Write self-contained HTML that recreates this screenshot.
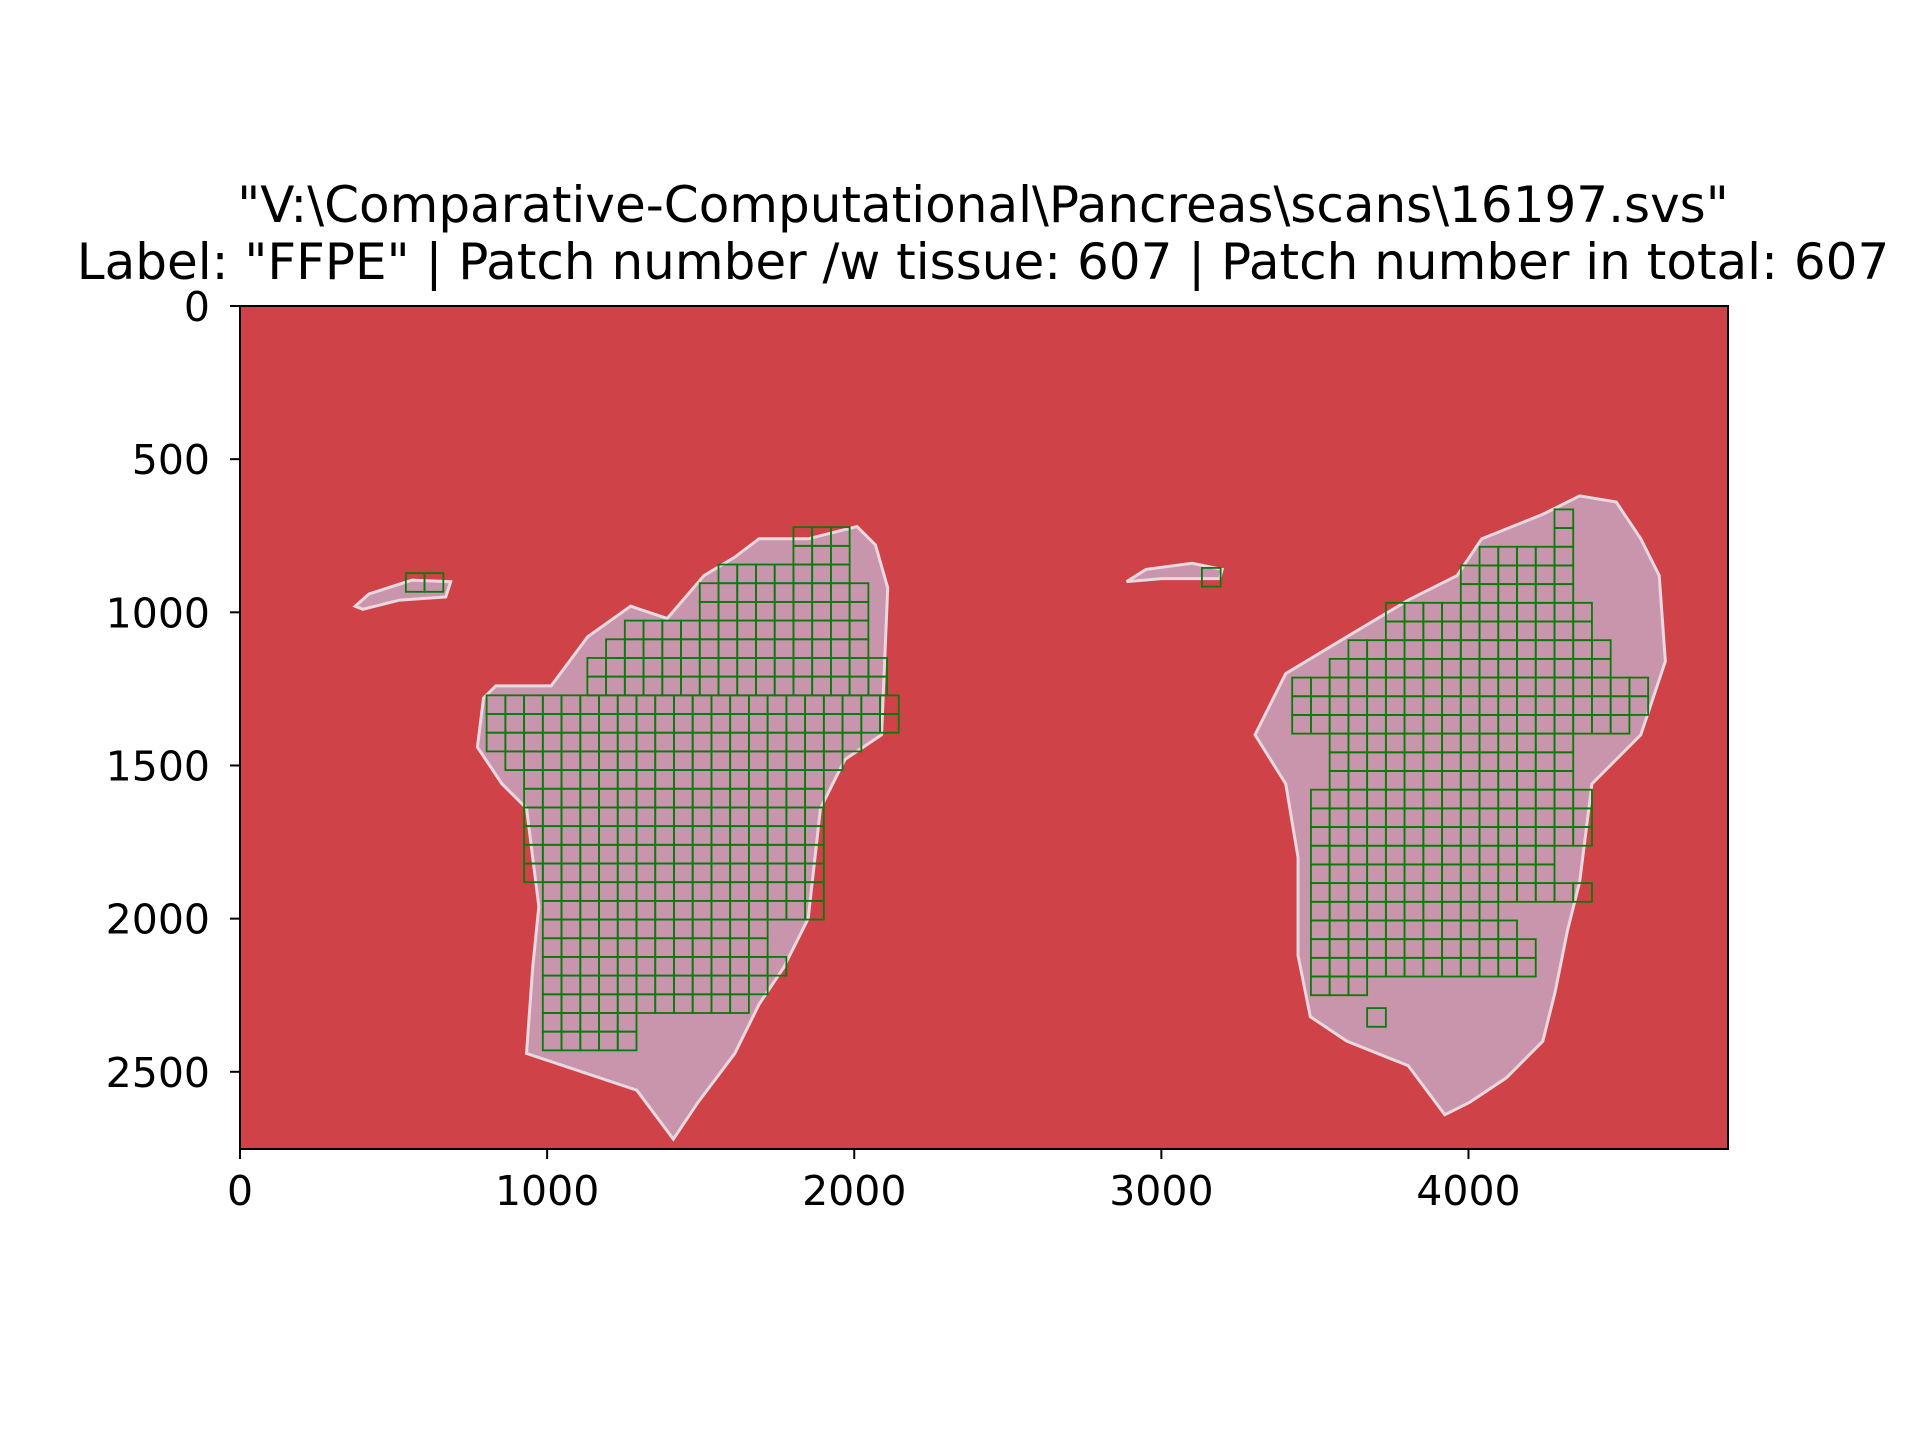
<!DOCTYPE html>
<html><head><meta charset="utf-8"><style>
html,body{margin:0;padding:0;background:#fff;}
svg{display:block;font-family:"DejaVu Sans","Liberation Sans",sans-serif;}
</style></head><body>
<svg id="chart" width="1920" height="1440" viewBox="0 0 1920 1440" xmlns="http://www.w3.org/2000/svg">
<rect width="1920" height="1440" fill="#fff"/>
<text x="983" y="222" font-size="50" text-anchor="middle" fill="#000">"V:\Comparative-Computational\Pancreas\scans\16197.svs"</text>
<text x="983" y="279" font-size="50" text-anchor="middle" fill="#000">Label: "FFPE" | Patch number /w tissue: 607 | Patch number in total: 607</text>
<g id="plot"></g>
<g id="axes"></g>
</svg>
<script>
const xTicks=[0,1000,2000,3000,4000];
const yTicks=[0,500,1000,1500,2000,2500];
const xMax=4845, yMax=2752;
const leftTissue=[[793,1280],[833,1240],[1013,1240],[1132,1080],[1272,980],[1391,1020],[1511,880],[1611,820],[1690,760],[1850,760],[2009,720],[2069,780],[2109,920],[2089,1400],[1970,1480],[1890,1640],[1850,2000],[1770,2160],[1690,2280],[1611,2440],[1491,2600],[1411,2720],[1292,2560],[1053,2480],[933,2440],[953,2160],[973,1960],[933,1640],[853,1560],[773,1440]];
const rightTissue=[[3365,1280],[3405,1200],[3604,1080],[3804,960],[3963,880],[4043,760],[4242,680],[4362,620],[4481,640],[4561,760],[4621,880],[4641,1160],[4561,1400],[4402,1560],[4362,1880],[4322,2040],[4282,2240],[4242,2400],[4123,2520],[4003,2600],[3923,2640],[3804,2480],[3604,2400],[3485,2320],[3445,2120],[3445,1800],[3405,1560],[3305,1400]];
const sliverA=[[375,980],[420,940],[560,895],[686,900],[670,950],[520,960],[400,990]];
const sliverB=[[2887,900],[2950,860],[3100,840],[3198,860],[3190,890],[3000,890]];
const patchStep=61;
// rows: [y, xStart, xEnd]
const patchRows=[
[722,1802,1985],[783,1802,1985],[844,1558,1985],[905,1497,2046],[966,1497,2046],
[1027,1253,2046],[1088,1192,2046],[1149,1131,2107],[1210,1131,2107],[1271,803,2107],[1332,803,2107],
[1393,803,1985],[1454,864,1924],[1515,925,1863],[1576,925,1863],[1637,925,1863],[1698,925,1863],
[1759,925,1863],[1820,925,1863],[1881,986,1863],[1942,986,1863],[2003,986,1680],[2064,986,1680],[2125,986,1741],
[2186,986,1680],[2247,986,1619],[2308,986,1253],[2369,986,1253],
[872,540,662],
[855,3132,3193],
[664,4280,4341],[725,4280,4341],[786,4036,4341],[847,3975,4341],[908,3975,4341],[969,3731,4402],[1030,3731,4402],
[1091,3609,4463],[1152,3548,4463],[1213,3426,4585],[1274,3426,4585],[1335,3426,4524],[1396,3548,4341],
[1457,3548,4341],[1518,3548,4341],[1579,3487,4402],[1640,3487,4402],[1701,3487,4402],[1762,3487,4280],
[1823,3487,4280],[1884,3487,4402],[1945,3487,4097],[2006,3487,4158],[2067,3487,4219],[2128,3487,4219],[2189,3487,3670],[2292,3670,3731]
];
const L=240,T=306,R=1728,B=1149;
const sx=v=>L+v/xMax*(R-L), sy=v=>T+v/yMax*(B-T);
const NS='http://www.w3.org/2000/svg';
const plot=document.getElementById('plot'), axes=document.getElementById('axes');
function mk(tag,parent,attrs){const e=document.createElementNS(NS,tag);for(const k in attrs)e.setAttribute(k,attrs[k]);parent.appendChild(e);return e;}
const bg=mk('rect',plot,{x:L,y:T,width:R-L,height:B-T,fill:'#cf4248'});


function poly(pts,name){
  const p=mk('polygon',plot,{points:pts.map(q=>sx(q[0])+','+sy(q[1])).join(' '),fill:'#c895ac',stroke:'#e8d8e0','stroke-width':3});
  
  
}
poly(leftTissue,'left-tissue');poly(rightTissue,'right-tissue');poly(sliverA,'left-sliver');poly(sliverB,'right-sliver');
const pw=sx(patchStep)-sx(0), ph=sy(patchStep)-sy(0);
patchRows.forEach(r=>{
  for(let x=r[1];x<r[2];x+=patchStep){
    const p=mk('rect',plot,{x:sx(x),y:sy(r[0]),width:pw,height:ph,fill:'none',stroke:'#0a7a0a','stroke-width':1.8});
    
    
  }
});
const frame=mk('rect',axes,{x:L,y:T,width:R-L,height:B-T,fill:'none',stroke:'#000','stroke-width':2});


xTicks.forEach(v=>{
  const x=sx(v);
  const t=mk('line',axes,{x1:x,x2:x,y1:B,y2:B+10,stroke:'#000','stroke-width':2});
  
  
  const s=mk('text',axes,{x:x,y:B+56,'font-size':41,'text-anchor':'middle'});s.textContent=v;
  
  
});
yTicks.forEach(v=>{
  const y=sy(v);
  const t=mk('line',axes,{x1:L-10,x2:L,y1:y,y2:y,stroke:'#000','stroke-width':2});
  
  
  const s=mk('text',axes,{x:L-30,y:y+15,'font-size':41,'text-anchor':'end'});s.textContent=v;
  
  
});
</script>
</body></html>
